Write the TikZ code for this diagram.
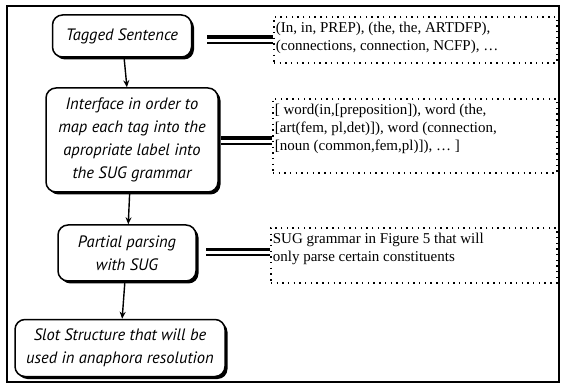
\documentclass[tikz,border=0pt]{standalone}
\usepackage{fontspec}
\setmainfont{Liberation Serif}
\newfontfamily\stagefont{PT Sans}
\usetikzlibrary{arrows.meta,shadows}

\begin{document}
\begin{tikzpicture}[x=1pt,y=-1pt,
  stagebox/.style={draw,line width=1.5pt,rounded corners=10pt,fill=white,align=center,
    inner sep=0pt,font=\stagefont\itshape\fontsize{16.5}{23}\selectfont,
    drop shadow={shadow xshift=2.5pt,shadow yshift=-2.5pt,fill=black,opacity=1}},
  notebox/.style={draw,line width=1.7pt,dash pattern=on 1.4pt off 4.3pt,anchor=north west,
    inner xsep=2pt,inner ysep=0pt,font=\fontsize{15}{18}\selectfont},
  flow/.style={line width=1.4pt,-{Stealth[length=7pt,width=6pt]}},
  eqtop/.style={line width=3.4pt},
  eqbot/.style={line width=2pt}]
\useasboundingbox (0,0) rectangle (563,385);
% outer frame
\draw[line width=2pt] (7,6) rectangle (559,382);

% stages
\node[stagebox,minimum width=139pt,minimum height=42pt] (tagged) at (122,36)
  {Tagged Sentence};
\node[stagebox,minimum width=172pt,minimum height=104pt] (iface) at (132,140)
  {Interface in order to\\map each tag into the\\apropriate label into\\the SUG grammar};
\node[stagebox,minimum width=138pt,minimum height=56pt] (parse) at (127,253)
  {Partial parsing\\with SUG};
\node[stagebox,minimum width=210pt,minimum height=57pt] (slot) at (120,348)
  {Slot Structure that will be\\used in anaphora resolution};

% notes
\node[notebox] (tags) at (273,16) {\parbox[c][46pt][t]{279pt}{\vspace*{5pt}%
  (In, in, PREP), (the, the, ARTDFP),\\(connections, connection, NCFP), \ldots}};
\node[notebox] (words) at (272,98) {\parbox[c][74pt][t]{280pt}{\vspace*{5pt}%
  [ word(in,[preposition]), word (the,\\\relax[art(fem, pl,det)]), word (connection,\\\relax[noun (common,fem,pl)]), \ldots\ ]}};
\node[notebox] (sug) at (270,227) {\parbox[c][55pt][t]{282pt}{\vspace*{5pt}%
  SUG grammar in Figure 5 that will\\only parse certain constituents}};

% flow
\draw[flow] (tagged) -- (iface);
\draw[flow] (iface) -- (parse);
\draw[flow] (parse) -- (slot);

% equals
\draw[eqtop] ([yshift=3pt]tags.west) -- ++(-66,0);
\draw[eqbot] ([yshift=-3pt]tags.west) -- ++(-66,0);
\draw[eqtop] ([yshift=-2pt]words.west) -- ++(-51,0);
\draw[eqbot] ([yshift=-8pt]words.west) -- ++(-51,0);
\draw[eqtop] ([yshift=6pt]sug.west) -- ++(-64,0);
\draw[eqbot] ([yshift=0pt]sug.west) -- ++(-64,0);
\end{tikzpicture}
\end{document}
